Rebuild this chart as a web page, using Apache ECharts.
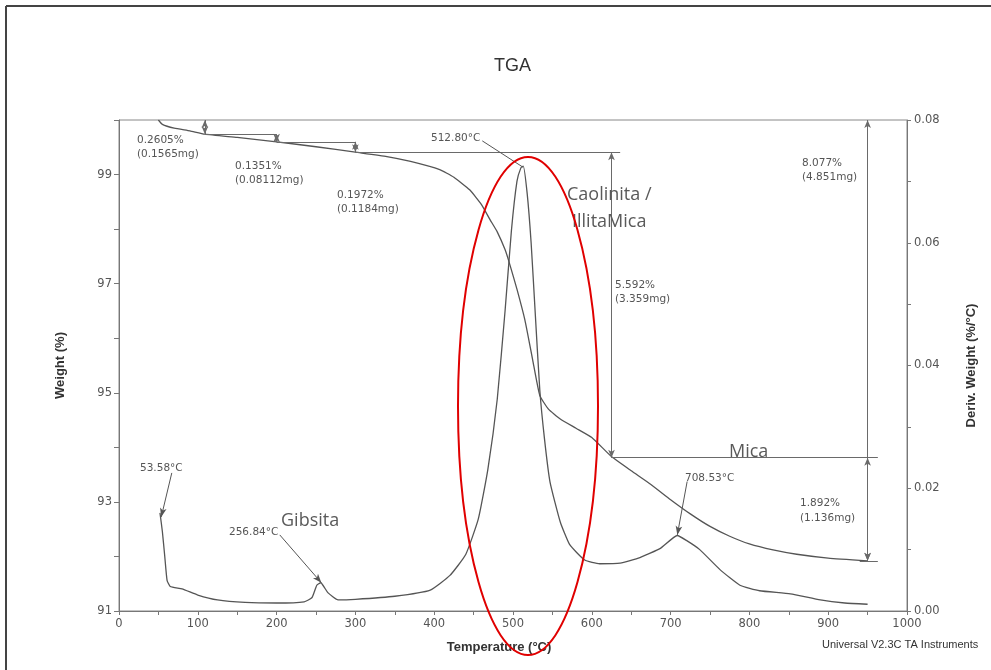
<!DOCTYPE html>
<html>
<head>
<meta charset="utf-8">
<title>TGA</title>
<script src="https://cdn.jsdelivr.net/npm/echarts@6/dist/echarts.min.js"></script>
<style>
  html, body { margin: 0; padding: 0; background: #fff; }
  #main { width: 991px; height: 670px; }
</style>
</head>
<body>
<div id="main"></div>
<script>
// 重量曲线 (TGA)
const tgaTemp = [50, 55, 70, 90, 109, 150, 200, 250, 300, 340, 370, 407, 425, 445, 460, 471, 480, 490, 496, 505, 515, 525, 534, 545, 560, 580, 600, 625, 650, 675, 700, 725, 750, 775, 800, 830, 860, 900, 950];
const tgaWeight = [100.0, 99.92, 99.85, 99.8, 99.74, 99.68, 99.6, 99.51, 99.41, 99.33, 99.24, 99.09, 98.95, 98.72, 98.45, 98.17, 97.95, 97.62, 97.35, 96.9, 96.34, 95.6, 94.95, 94.7, 94.52, 94.35, 94.18, 93.83, 93.57, 93.32, 93.04, 92.78, 92.55, 92.37, 92.23, 92.12, 92.04, 91.97, 91.92];

// 导数曲线 (DTG)
const dtgTemp = [52, 55, 58, 61, 65, 80, 100, 125, 160, 200, 235, 245, 251, 256, 265, 278, 300, 350, 395, 420, 440, 456, 468, 480, 490, 498, 505, 510, 513, 518, 523, 528, 534, 540, 547, 560, 572, 591, 610, 636, 661, 687, 708.5, 720, 737, 763, 788, 813, 852, 890, 921, 950];
const dtgDeriv = [0.016, 0.013, 0.009, 0.005, 0.004, 0.0036, 0.0026, 0.0018, 0.0014, 0.0013, 0.0015, 0.0022, 0.0042, 0.0046, 0.003, 0.0018, 0.0019, 0.0024, 0.0034, 0.0058, 0.0092, 0.015, 0.023, 0.0345, 0.049, 0.062, 0.07, 0.0722, 0.0725, 0.068, 0.06, 0.049, 0.036, 0.028, 0.021, 0.0145, 0.0108, 0.0083, 0.0077, 0.0078, 0.0087, 0.0102, 0.0123, 0.0115, 0.01, 0.0067, 0.0042, 0.0033, 0.0028, 0.0018, 0.0013, 0.0011];

// 台阶分析
const stepTemp = [50, 109, 200, 300, 625, 950];
const stepWeight = [100, 99.74, 99.6, 99.41, 93.81, 91.92];
const stepPct = ['0.2605%', '0.1351%', '0.1972%', '5.592%', '1.892%'];
const stepMg = ['(0.1565mg)', '(0.08112mg)', '(0.1184mg)', '(3.359mg)', '(1.136mg)'];
const totalPct = '8.077%';
const totalMg = '(4.851mg)';

// 峰值
const peakTemp = [53.58, 256.84, 512.8, 708.53];
const peakDeriv = [0.0153, 0.0046, 0.0723, 0.0124];

// 区域名称
const zoneNames = ['Gibsita', 'Caolinita /', 'IllitaMica', 'Mica'];

let tga = tgaTemp.map((t, i) => [t, tgaWeight[i]]);
let dtg = dtgTemp.map((t, i) => [t, dtgDeriv[i]]);

// 画线段的小工具, s0/s1: 两端的符号
function seg(a, b, s0, s1) {
  return [
    { coord: a, symbol: s0 || 'none' },
    { coord: b, symbol: s1 || 'none' }
  ];
}

let stepLines = [];
// 水平参考线
stepLines.push(seg([stepTemp[1], stepWeight[1]], [stepTemp[2], stepWeight[1]]));
stepLines.push(seg([stepTemp[2], stepWeight[2]], [stepTemp[3], stepWeight[2]]));
stepLines.push(seg([stepTemp[3], stepWeight[3]], [stepTemp[4] + 11, stepWeight[3]]));
stepLines.push(seg([stepTemp[4], stepWeight[4]], [stepTemp[5] + 13, stepWeight[4]]));
stepLines.push(seg([stepTemp[5] - 10, stepWeight[5]], [stepTemp[5] + 13, stepWeight[5]]));
// 竖直双箭头
for (let i = 0; i < 4; i++) {
  stepLines.push(seg([stepTemp[i + 1], stepWeight[i]], [stepTemp[i + 1], stepWeight[i + 1]], 'arrow', 'arrow'));
}
stepLines.push(seg([stepTemp[5], stepWeight[0]], [stepTemp[5], stepWeight[5]], 'arrow', 'arrow'));
stepLines.push(seg([stepTemp[5], stepWeight[4]], [stepTemp[5], stepWeight[5]], 'arrow', 'arrow'));

// 峰值标注引线起点
const leaderStart = [[67, 0.0225], [204, 0.0124], [461, 0.0766], [721, 0.0211]];
let peakLines = peakTemp.map((t, i) =>
  seg(leaderStart[i], [t, peakDeriv[i]], 'none', i === 2 ? 'none' : 'arrow')
);

const small = { fontFamily: 'DejaVu Sans', fontSize: 10.5, fill: '#555' };
const big = { fontFamily: 'Open Sans', fontSize: 18, fill: '#5a5a5a' };
function txt(text, x, y, st) {
  return { type: 'text', x: x, y: y, z: 100, silent: true, style: Object.assign({ text: text, textVerticalAlign: 'middle' }, st) };
}

let graphics = [
  // 外框
  { type: 'line', z: 100, shape: { x1: 6, y1: 6, x2: 991, y2: 6 }, style: { stroke: '#444', lineWidth: 2 } },
  { type: 'line', z: 100, shape: { x1: 6, y1: 6, x2: 6, y2: 670 }, style: { stroke: '#444', lineWidth: 2 } },
  txt(stepPct[0], 137, 140, small), txt(stepMg[0], 137, 154, small),
  txt(stepPct[1], 235, 166, small), txt(stepMg[1], 235, 180, small),
  txt(stepPct[2], 337, 195, small), txt(stepMg[2], 337, 209, small),
  txt(stepPct[3], 615, 285, small), txt(stepMg[3], 615, 299, small),
  txt(totalPct, 802, 163, small), txt(totalMg, 802, 177, small),
  txt(stepPct[4], 800, 503, small), txt(stepMg[4], 800, 518, small),
  txt(peakTemp[0].toFixed(2) + '°C', 140, 468, small),
  txt(peakTemp[1].toFixed(2) + '°C', 229, 532, small),
  txt(peakTemp[2].toFixed(2) + '°C', 431, 138, small),
  txt(peakTemp[3].toFixed(2) + '°C', 685, 478, small),
  txt(zoneNames[0], 281, 521, big),
  txt(zoneNames[1], 567, 195, big),
  txt(zoneNames[2], 572, 222, big),
  txt(zoneNames[3], 729, 452, big),
  txt('Universal V2.3C TA Instruments', 822, 645, { fontFamily: 'Liberation Sans', fontSize: 11, fill: '#333' }),
  // 红色椭圆
  { type: 'ellipse', z: 101, silent: true, shape: { cx: 528, cy: 406, rx: 70, ry: 249 }, style: { fill: 'none', stroke: '#e00000', lineWidth: 2 } }
];

const axisCol = '#777';
const labelStyle = { color: '#555', fontFamily: 'DejaVu Sans', fontSize: 11.5 };
const nameStyle = { color: '#333', fontFamily: 'Liberation Sans', fontSize: 13, fontWeight: 'bold' };

let myChart = echarts.init(document.getElementById('main'));
let option = {
  animation: false,
  title: {
    text: 'TGA',
    left: 489,
    top: 52,
    textStyle: { fontFamily: 'Liberation Sans', fontSize: 18, fontWeight: 'normal', color: '#333' }
  },
  grid: {
    left: 119, right: 84, top: 120, bottom: 59,
    show: true, borderColor: '#888', borderWidth: 1,
    outerBoundsMode: 'none'
  },
  xAxis: {
    type: 'value', min: 0, max: 1000, interval: 50,
    name: 'Temperature (°C)', nameLocation: 'middle', nameGap: 30,
    nameTextStyle: Object.assign({ padding: [0, 28, 0, 0] }, nameStyle),
    axisLine: { lineStyle: { color: axisCol } },
    axisTick: { length: 4, lineStyle: { color: axisCol } },
    axisLabel: Object.assign({ margin: 7, formatter: v => (v % 100 === 0 ? v : '') }, labelStyle),
    splitLine: { show: false }
  },
  yAxis: [
    {
      type: 'value', min: 91, max: 100, interval: 1,
      name: 'Weight (%)', nameLocation: 'middle', nameGap: 52, nameRotate: 90,
      nameTextStyle: nameStyle,
      axisLine: { show: true, lineStyle: { color: axisCol } },
      axisTick: { show: true, length: 5, lineStyle: { color: axisCol } },
      axisLabel: Object.assign({ margin: 7, formatter: v => (v % 2 === 1 ? v : '') }, labelStyle),
      splitLine: { show: false }
    },
    {
      type: 'value', min: 0, max: 0.08, interval: 0.01, position: 'right',
      name: 'Deriv. Weight (%/°C)', nameLocation: 'middle', nameGap: 58, nameRotate: 90,
      nameTextStyle: nameStyle,
      axisLine: { show: true, lineStyle: { color: axisCol } },
      axisTick: { show: true, length: 4, lineStyle: { color: axisCol } },
      axisLabel: Object.assign({
        margin: 7,
        formatter: v => (Math.round(v * 100) % 2 === 0 ? v.toFixed(2) : '')
      }, labelStyle),
      splitLine: { show: false }
    }
  ],
  series: [
    {
      name: 'Weight', type: 'line', yAxisIndex: 0, data: tga,
      showSymbol: false, smooth: 0.15,
      lineStyle: { color: '#555', width: 1.3 },
      markLine: {
        silent: true, symbolSize: [5, 8], label: { show: false },
        lineStyle: { color: '#6a6a6a', width: 1, type: 'solid' },
        data: stepLines
      }
    },
    {
      name: 'Deriv', type: 'line', yAxisIndex: 1, data: dtg,
      showSymbol: false, smooth: 0.15,
      lineStyle: { color: '#555', width: 1.3 },
      markLine: {
        silent: true, symbolSize: [5, 9], label: { show: false },
        lineStyle: { color: '#555', width: 1, type: 'solid' },
        data: peakLines
      }
    }
  ],
  graphic: graphics
};
myChart.setOption(option);
</script>
</body>
</html>
